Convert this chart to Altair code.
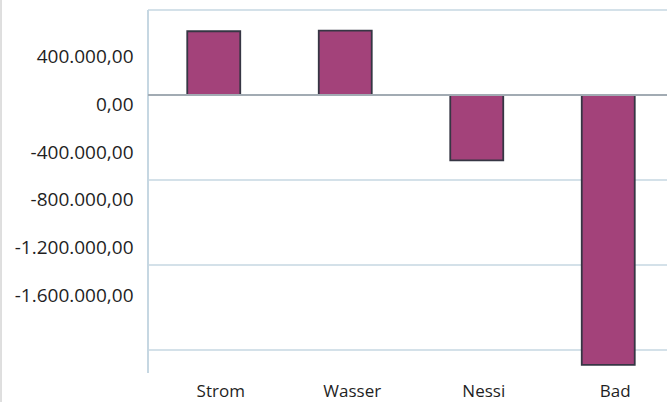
import altair as alt
import pandas as pd

# ---- data ----
categories = ["Strom", "Wasser", "Nessi", "Bad"]
values = [600000, 605000, -615000, -2540000]
grid_values = [800000, -800000, -1600000, -2400000]
label_values = [400000, 0, -400000, -800000, -1200000, -1600000]

bars_df = pd.DataFrame({"Kategorie": categories, "Wert": values})
grid_df = pd.DataFrame({"g": grid_values})
label_df = pd.DataFrame({"v": label_values})

W, H = 519, 363
FONT = "Open Sans"

x_scale = alt.Scale(domain=categories, range=[0, 526], paddingInner=0.597, paddingOuter=0.2985)
y_bar = alt.Scale(domain=[-2616470, 800000], nice=False, zero=False)
y_lab = alt.Scale(domain=[-2251600, 791600], nice=False, zero=False)

x_axis = alt.Axis(title=None, domain=False, ticks=False, grid=False,
                  labelFont=FONT, labelFontSize=17, labelColor="#1f1f1f",
                  labelPadding=10, labelAngle=0, labelOffset=7)

grid = alt.Chart(grid_df).mark_rule(color="#c6d7e2", strokeWidth=1.5).encode(
    y=alt.Y("g:Q", scale=y_bar, axis=None)
)
zero = alt.Chart(grid_df).mark_rule(color="#a2abb3", strokeWidth=2.2).encode(
    y=alt.datum(0, scale=y_bar, axis=None)
)
left_border = alt.Chart(grid_df).mark_rule(color="#c6d7e2", strokeWidth=1.5).encode(
    x=alt.value(0), y=alt.value(0), y2=alt.value(H)
)
page_edge = alt.Chart(grid_df).mark_rule(color="#dcdcdc", strokeWidth=1).encode(
    x=alt.value(-147), y=alt.value(-10), y2=alt.value(H + 29)
)

bars = alt.Chart(bars_df).mark_bar(
    color="#a3427a", stroke="#363644", strokeWidth=1.8, opacity=1
).encode(
    x=alt.X("Kategorie:N", scale=x_scale, axis=x_axis, sort=categories),
    y=alt.Y("Wert:Q", scale=y_bar, axis=None),
    y2=alt.datum(0),
)

label_expr = (
    "(datum.value < 0 ? '-' : '') + "
    "replace(replace(replace(format(abs(datum.value), ',.2f'), regexp(',', 'g'), '#'),"
    " regexp('[.]', 'g'), ','), regexp('#', 'g'), '.')"
)

labels = alt.Chart(label_df).mark_point(opacity=0).encode(
    y=alt.Y("v:Q", scale=y_lab, axis=alt.Axis(
        title=None, orient="left", values=label_values, labelExpr=label_expr,
        grid=False, ticks=False, domain=False,
        labelFont=FONT, labelFontSize=19, labelColor="#1f1f1f", labelPadding=15,
    ))
)

chart = alt.layer(page_edge, grid, left_border, bars, zero, labels).resolve_scale(
    y="independent"
).properties(
    width=W, height=H,
    autosize=alt.AutoSizeParams(type="none"),
    padding={"left": 148, "top": 10, "right": 0, "bottom": 29},
    background="white",
).configure_view(stroke=None)

chart.save("out.html", embed_options={"renderer": "svg", "actions": False})
